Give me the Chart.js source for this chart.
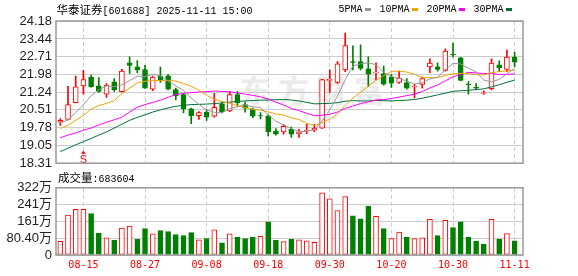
<!DOCTYPE html>
<html>
<head>
<meta charset="utf-8">
<script src="https://cdn.jsdelivr.net/npm/chart.js@4.4.1/dist/chart.umd.min.js"></script>
<style>
  body { margin: 0; background: #fff; }
  #wrap { position: relative; width: 578px; height: 276px; overflow: hidden; }
  canvas { position: absolute; left: 0; z-index: 1; }
  .txt { position: absolute; white-space: nowrap; line-height: 14px; color: #000; z-index: 2; }
  .cjk { font-family: 'Noto Sans CJK SC', sans-serif; font-size: 11.5px; }
  .mono { font-family: 'Liberation Mono', monospace; font-size: 10px; }
  #legend { position: absolute; left: 338.5px; top: 2px; display: flex; align-items: center; height: 14px; z-index: 2; }
  #legend .mk { display: inline-block; width: 6px; height: 3px; margin: 0 9px 0 2px; }
  #wm { position: absolute; left: 240px; top: 73px; font: bold 31px 'Noto Sans CJK SC', sans-serif;
        letter-spacing: 7px; color: #ebebeb; line-height: 1; z-index: 0; white-space: nowrap; }
</style>
</head>
<body>
<div id="wrap">
  <div class="txt" style="left:56.5px;top:2px"><span class="cjk">华泰证券</span><span class="mono">[601688] 2025-11-11 15:00</span></div>
  <div id="legend"></div>
  <div id="wm">东方财富</div>
  <div class="txt" style="left:58px;top:170px"><span class="cjk">成交量</span><span class="mono">:683604</span></div>
  <canvas id="price" width="578" height="175" style="top:0"></canvas>
  <canvas id="vol" width="578" height="100" style="top:176px"></canvas>
</div>
<script>
const dates = ['08-12','08-13','08-14','08-15','08-18','08-19','08-20','08-21','08-22','08-25',
  '08-26','08-27','08-28','08-29','09-01','09-02','09-03','09-04','09-05','09-08',
  '09-09','09-10','09-11','09-12','09-15','09-16','09-17','09-18','09-19','09-22',
  '09-23','09-24','09-25','09-26','09-29','09-30','10-09','10-10','10-13','10-14',
  '10-15','10-16','10-17','10-20','10-21','10-22','10-23','10-24','10-27','10-28',
  '10-29','10-30','10-31','11-03','11-04','11-05','11-06','11-07','11-10','11-11'];
const axisDates = ['08-15','08-27','09-08','09-18','09-30','10-20','10-30','11-11'];

const openP = [20.00,20.12,20.81,21.50,21.87,21.50,21.16,21.67,21.26,22.45,
  22.29,22.17,21.37,21.91,21.92,21.35,21.14,20.55,20.27,20.42,
  20.25,20.76,20.47,21.14,20.73,20.54,20.28,20.27,19.64,19.60,
  19.71,19.53,19.64,19.67,19.76,21.73,21.64,22.16,22.50,22.50,
  22.21,22.05,22.01,21.87,21.64,21.64,21.46,21.56,22.28,22.29,
  22.14,22.81,22.66,21.58,21.44,21.19,21.39,22.37,22.18,22.69];
const closeP = [20.08,20.73,21.46,21.76,21.46,21.27,21.53,21.34,22.11,22.35,
  22.17,21.41,21.87,21.73,21.37,21.10,20.55,20.27,20.40,20.21,
  20.62,20.44,21.14,20.80,20.58,20.25,20.26,19.60,19.51,19.83,
  19.51,19.60,19.68,19.76,21.76,21.77,22.41,23.17,22.47,22.22,
  21.98,22.07,21.57,21.61,21.82,21.41,21.49,21.80,22.44,22.18,
  22.94,22.78,21.73,21.54,21.41,21.22,22.44,22.25,22.69,22.48];
const highP = [20.15,21.48,21.91,22.14,21.95,21.84,21.60,21.80,22.18,22.70,
  22.55,22.35,21.91,22.28,21.98,21.41,21.19,20.59,20.44,20.51,
  21.19,20.82,21.27,21.27,20.82,20.59,20.40,20.31,19.74,19.90,
  19.80,19.71,19.91,19.91,21.77,22.16,22.50,23.68,23.16,23.20,
  22.70,22.45,22.32,21.98,22.11,21.80,21.57,21.87,22.62,22.45,
  23.03,23.27,22.68,21.68,21.60,21.30,22.62,22.54,22.98,22.89];
const lowP = [19.87,20.10,20.80,21.16,21.45,21.23,21.03,21.27,21.25,22.02,
  22.05,21.40,21.30,21.64,21.33,20.92,20.39,19.94,20.12,20.08,
  20.21,20.39,20.44,20.65,20.42,20.19,20.14,19.44,19.47,19.51,
  19.37,19.37,19.53,19.61,19.75,21.23,21.60,22.09,22.16,22.16,
  21.48,21.75,21.53,21.44,21.60,21.37,21.00,21.41,22.05,22.11,
  22.11,22.70,21.72,21.16,21.33,21.15,21.33,22.09,22.09,22.28];

// volume in 万
const volume = [65,191,218,218,198,104,82,70,129,138,
  75,126,101,117,112,98,93,107,73,79,
  120,58,101,84,79,84,89,159,70,64,
  75,73,68,61,297,269,213,279,187,173,
  233,185,126,78,110,84,78,82,171,93,
  166,131,159,84,67,51,171,75,103,68.36];

const ma5 = [19.96,20.10,20.40,20.72,21.10,21.34,21.50,21.47,21.54,21.72,
  21.90,21.88,21.98,21.91,21.71,21.50,21.32,21.00,20.74,20.51,
  20.41,20.39,20.56,20.64,20.72,20.64,20.61,20.30,20.04,19.89,
  19.74,19.61,19.63,19.68,20.06,20.51,21.08,21.77,22.32,22.41,
  22.45,22.38,22.06,21.89,21.81,21.70,21.58,21.63,21.79,21.86,
  22.17,22.43,22.41,22.23,22.08,21.74,21.67,21.77,22.00,22.22];
const ma10 = [19.74,19.87,20.08,20.28,20.55,20.69,20.78,20.89,21.19,21.41,
  21.62,21.69,21.73,21.72,21.72,21.70,21.60,21.49,21.32,21.11,
  20.95,20.86,20.78,20.69,20.61,20.53,20.50,20.43,20.34,20.30,
  20.19,20.11,19.96,19.86,19.98,20.13,20.34,20.70,21.00,21.24,
  21.48,21.73,21.92,22.10,22.11,22.07,21.98,21.84,21.84,21.84,
  21.93,22.00,22.02,22.01,21.97,21.95,22.05,22.09,22.12,22.15];
const ma20 = [19.36,19.47,19.56,19.67,19.76,19.89,20.00,20.10,20.21,20.42,
  20.62,20.73,20.82,20.91,21.03,21.14,21.19,21.22,21.25,21.26,
  21.29,21.27,21.26,21.21,21.16,21.11,21.05,20.96,20.83,20.71,
  20.57,20.48,20.37,20.27,20.29,20.33,20.42,20.57,20.67,20.77,
  20.84,20.92,20.94,20.98,21.04,21.10,21.16,21.27,21.42,21.54,
  21.71,21.87,21.97,22.06,22.04,22.01,22.01,21.97,21.98,21.99];
const ma30 = [18.79,18.93,19.07,19.20,19.33,19.47,19.60,19.76,19.92,20.08,
  20.20,20.31,20.42,20.51,20.59,20.66,20.70,20.73,20.74,20.75,
  20.77,20.80,20.83,20.86,20.88,20.90,20.91,20.92,20.93,20.94,
  20.92,20.88,20.82,20.76,20.77,20.78,20.81,20.87,20.89,20.88,
  20.88,20.90,20.89,20.88,20.90,20.91,20.94,20.99,21.06,21.13,
  21.20,21.28,21.30,21.32,21.35,21.38,21.46,21.55,21.65,21.74];

const maNames = ['5PMA', '10PMA', '20PMA', '30PMA'];
const priceTickLabels = ['18.31','19.05','19.78','20.51','21.24','21.98','22.71','23.44','24.18'];
const volTickValues = [0, 80.4, 160.8, 241.2, 321.6];
const volTickLabels = ['0','80.40万','161万','241万','322万'];
const signalIdx = [3];
const signalText = ['S'];

const RED = '#ff0000', GREEN = '#008000';
const maColors = ['#999999', '#f5a300', '#ff00ff', '#00703a'];
const maSeries = [ma5, ma10, ma20, ma30];

// legend (text then color mark, like the original)
const legend = document.getElementById('legend');
maNames.forEach((n, i) => {
  const t = document.createElement('span');
  t.className = 'mono';
  t.textContent = n;
  const m = document.createElement('span');
  m.className = 'mk';
  m.style.background = maColors[i];
  legend.appendChild(t);
  legend.appendChild(m);
});

Chart.defaults.font.family = "'Liberation Sans','Noto Sans CJK SC',sans-serif";
Chart.defaults.animation = false;

const up = closeP.map((c, i) => c >= openP[i]);
const volUp = closeP.map((c, i) => i === 0 ? up[0] : c >= closeP[i - 1]);

function xAxis(showTicks) {
  return {
    type: 'linear',
    min: -0.56,
    max: 60.09,
    offset: false,
    afterBuildTicks: s => { s.ticks = axisDates.map(d => ({ value: dates.indexOf(d) })); },
    afterFit: s => { s.height = showTicks ? 21 : 0; },
    ticks: {
      display: showTicks, autoSkip: false, maxRotation: 0, padding: 4, color: RED,
      font: { family: "'DejaVu Sans Mono', monospace", size: 10 },
      callback: v => dates[v]
    },
    grid: { color: '#cccccc', drawTicks: false, offset: false },
    border: { display: false, dash: [4, 3] }
  };
}

const framePlugin = {
  id: 'frame',
  afterDraw(chart) {
    const { ctx, chartArea: a } = chart;
    ctx.save();
    ctx.strokeStyle = '#999';
    ctx.lineWidth = 1.5;
    ctx.strokeRect(a.left, a.top, a.right - a.left, a.bottom - a.top);
    ctx.restore();
  }
};

const signalPlugin = {
  id: 'signal',
  afterDatasetsDraw(chart) {
    const { ctx, chartArea: a } = chart;
    const xs = chart.scales.x;
    ctx.save();
    ctx.fillStyle = RED;
    signalIdx.forEach((idx, k) => {
      const x = xs.getPixelForValue(idx);
      const b = a.bottom;
      ctx.beginPath();
      ctx.moveTo(x, b - 12.5);
      ctx.lineTo(x - 2.5, b - 9.5);
      ctx.lineTo(x + 2.5, b - 9.5);
      ctx.closePath();
      ctx.fill();
      ctx.font = "11px 'Liberation Sans', sans-serif";
      ctx.textAlign = 'center';
      ctx.textBaseline = 'alphabetic';
      ctx.fillText(signalText[k], x, b - 0.5);
    });
    ctx.restore();
  }
};

new Chart(document.getElementById('price'), {
  type: 'bar',
  data: {
    datasets: [
      ...maSeries.map((s, k) => ({
        type: 'line',
        label: maNames[k],
        data: s.map((v, i) => ({ x: i, y: v })),
        borderColor: maColors[k],
        borderWidth: 1,
        pointRadius: 0,
        tension: 0,
        order: 1
      })),
      {
        label: 'body',
        data: openP.map((o, i) => ({ x: i, y: [Math.min(o, closeP[i]), Math.max(o, closeP[i])] })),
        backgroundColor: up.map(u => u ? '#ffffff' : GREEN),
        borderColor: up.map(u => u ? RED : GREEN),
        borderWidth: 1,
        borderSkipped: false,
        barThickness: 5,
        grouped: false,
        order: 4
      },
      {
        label: 'wick',
        data: lowP.map((l, i) => ({ x: i, y: [l, highP[i]] })),
        backgroundColor: up.map(u => u ? RED : GREEN),
        barThickness: 1,
        grouped: false,
        order: 5
      }
    ]
  },
  options: {
    responsive: false,
    devicePixelRatio: 1,
    layout: { padding: { top: 21, right: 55, bottom: 10, left: 0 } },
    plugins: { legend: { display: false }, tooltip: { enabled: false } },
    scales: {
      x: xAxis(false),
      y: {
        min: 18.31,
        max: 24.18,
        afterFit: s => { s.width = 56; },
        afterBuildTicks: s => { s.ticks = priceTickLabels.map(t => ({ value: parseFloat(t) })); },
        ticks: { autoSkip: false, padding: 4, color: '#222', font: { size: 13 }, callback: (v, i) => priceTickLabels[i] },
        grid: { color: '#cccccc', drawTicks: false },
        border: { display: false }
      }
    }
  },
  plugins: [framePlugin, signalPlugin]
});

new Chart(document.getElementById('vol'), {
  type: 'bar',
  data: {
    datasets: [{
      label: 'volume',
      data: volume.map((v, i) => ({ x: i, y: v })),
      backgroundColor: volUp.map(u => u ? '#ffffff' : GREEN),
      borderColor: volUp.map(u => u ? RED : GREEN),
      borderWidth: 1,
      borderSkipped: false,
      barThickness: 5
    }]
  },
  options: {
    responsive: false,
    devicePixelRatio: 1,
    layout: { padding: { top: 10, right: 55, bottom: 0, left: 0 } },
    plugins: { legend: { display: false }, tooltip: { enabled: false } },
    scales: {
      x: xAxis(true),
      y: {
        min: 0,
        max: 321.6,
        afterFit: s => { s.width = 56; },
        afterBuildTicks: s => { s.ticks = volTickValues.map(v => ({ value: v })); },
        ticks: { autoSkip: false, padding: 4, color: '#222', font: { size: 13 }, callback: (v, i) => volTickLabels[i] },
        grid: { color: '#cccccc', drawTicks: false },
        border: { display: false }
      }
    }
  },
  plugins: [framePlugin]
});
</script>
</body>
</html>
